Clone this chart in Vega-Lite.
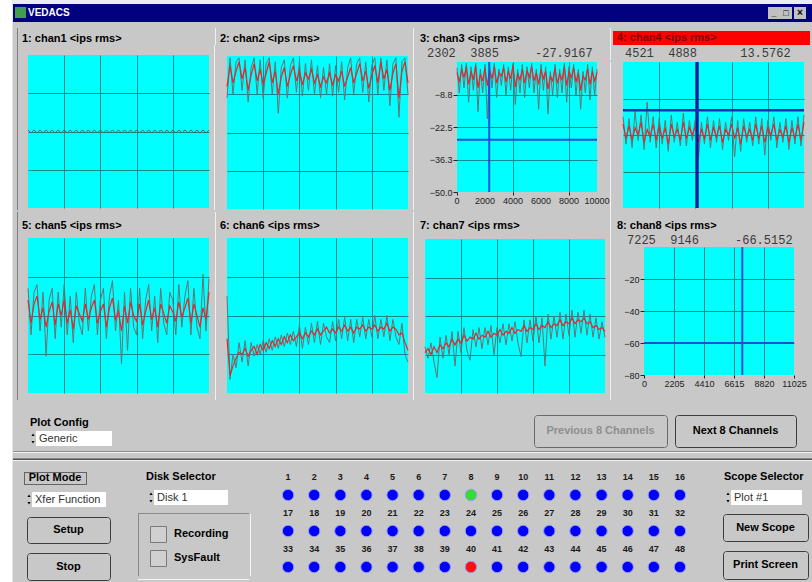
{
"$schema":"https://vega.github.io/schema/vega-lite/v6.json",
"background":"#c8c8c8",
"padding":0,
"spacing":0,
"data":{"values":[]},
"config":{"view":{"stroke":null},"text":{"font":"Liberation Sans"},"axis":{"labelFont":"Liberation Sans","minExtent":0,"labelOverlap":false,"labelFlush":false}},
"datasets":{
"ch1":[{"k":0,"g":0.04},{"k":1,"g":-0.04},{"k":2,"g":0.04},{"k":3,"g":-0.04},{"k":4,"g":0.04},{"k":5,"g":-0.04},{"k":6,"g":0.04},{"k":7,"g":-0.04},{"k":8,"g":0.04},{"k":9,"g":-0.04},{"k":10,"g":0.04},{"k":11,"g":-0.04},{"k":12,"g":0.04},{"k":13,"g":-0.04},{"k":14,"g":0.04},{"k":15,"g":-0.04},{"k":16,"g":0.04},{"k":17,"g":-0.04},{"k":18,"g":0.04},{"k":19,"g":-0.04},{"k":20,"g":0.04},{"k":21,"g":-0.04},{"k":22,"g":0.04},{"k":23,"g":-0.04},{"k":24,"g":0.04},{"k":25,"g":-0.04},{"k":26,"g":0.04},{"k":27,"g":-0.04},{"k":28,"g":0.04},{"k":29,"g":-0.04},{"k":30,"g":0.04},{"k":31,"g":-0.04},{"k":32,"g":0.04},{"k":33,"g":-0.04},{"k":34,"g":0.04},{"k":35,"g":-0.04},{"k":36,"g":0.04},{"k":37,"g":-0.04},{"k":38,"g":0.04},{"k":39,"g":-0.04},{"k":40,"g":0.04},{"k":41,"g":-0.04},{"k":42,"g":0.04},{"k":43,"g":-0.04},{"k":44,"g":0.04},{"k":45,"g":-0.04},{"k":46,"g":0.04},{"k":47,"g":-0.04},{"k":48,"g":0.04},{"k":49,"g":-0.04},{"k":50,"g":0.04},{"k":51,"g":-0.04},{"k":52,"g":0.04},{"k":53,"g":-0.04},{"k":54,"g":0.04},{"k":55,"g":-0.04},{"k":56,"g":0.04},{"k":57,"g":-0.04},{"k":58,"g":0.04},{"k":59,"g":-0.04},{"k":60,"g":0.04}],
"ch2":[{"k":0,"r":1.2,"g":0.9},{"k":1,"r":1.75,"g":1.95},{"k":2,"r":1.3,"g":1.0},{"k":3,"r":1.6,"g":1.85},{"k":4,"r":1.85,"g":1.95},{"k":5,"r":1.4,"g":1.1},{"k":6,"r":1.7,"g":1.9},{"k":7,"r":1.1,"g":0.8},{"k":8,"r":1.5,"g":1.7},{"k":9,"r":1.8,"g":1.95},{"k":10,"r":1.35,"g":1.0},{"k":11,"r":1.65,"g":1.9},{"k":12,"r":1.25,"g":0.9},{"k":13,"r":1.55,"g":1.8},{"k":14,"r":1.85,"g":1.95},{"k":15,"r":1.3,"g":1.0},{"k":16,"r":1.6,"g":1.85},{"k":17,"r":1.0,"g":0.5},{"k":18,"r":1.45,"g":1.7},{"k":19,"r":1.7,"g":1.9},{"k":20,"r":1.2,"g":0.9},{"k":21,"r":1.5,"g":1.75},{"k":22,"r":1.75,"g":1.95},{"k":23,"r":1.35,"g":1.05},{"k":24,"r":1.6,"g":1.85},{"k":25,"r":1.25,"g":0.95},{"k":26,"r":1.55,"g":1.8},{"k":27,"r":1.4,"g":1.1},{"k":28,"r":1.65,"g":1.9},{"k":29,"r":1.3,"g":1.0},{"k":30,"r":1.5,"g":1.75},{"k":31,"r":1.2,"g":0.9},{"k":32,"r":1.45,"g":1.7},{"k":33,"r":1.3,"g":1.0},{"k":34,"r":1.55,"g":1.8},{"k":35,"r":1.25,"g":0.95},{"k":36,"r":1.5,"g":1.75},{"k":37,"r":1.35,"g":1.05},{"k":38,"r":1.6,"g":1.85},{"k":39,"r":1.2,"g":0.85},{"k":40,"r":1.45,"g":1.7},{"k":41,"r":1.7,"g":1.95},{"k":42,"r":1.3,"g":1.0},{"k":43,"r":1.55,"g":1.8},{"k":44,"r":1.8,"g":1.95},{"k":45,"r":1.35,"g":1.05},{"k":46,"r":1.6,"g":1.85},{"k":47,"r":1.15,"g":0.8},{"k":48,"r":1.5,"g":1.75},{"k":49,"r":1.75,"g":1.95},{"k":50,"r":1.3,"g":1.0},{"k":51,"r":1.85,"g":1.95},{"k":52,"r":1.4,"g":1.1},{"k":53,"r":1.65,"g":1.9},{"k":54,"r":1.1,"g":0.7},{"k":55,"r":1.55,"g":1.8},{"k":56,"r":1.8,"g":1.95},{"k":57,"r":0.9,"g":0.4},{"k":58,"r":1.6,"g":1.85},{"k":59,"r":1.85,"g":1.95},{"k":60,"r":1.3,"g":1.0}],
"ch3":[{"s":0,"r":0.5,"g":2.5},{"s":167,"r":-3.5,"g":-8},{"s":333,"r":2.0,"g":4},{"s":500,"r":-1.5,"g":-6},{"s":667,"r":3.0,"g":4.5},{"s":833,"r":-4.5,"g":-12},{"s":1000,"r":1.0,"g":3},{"s":1167,"r":-2.5,"g":-7},{"s":1333,"r":3.5,"g":4.5},{"s":1500,"r":-6.0,"g":-16},{"s":1667,"r":0.0,"g":2},{"s":1833,"r":-3.0,"g":-8},{"s":2000,"r":2.5,"g":4},{"s":2167,"r":-5.0,"g":-19},{"s":2333,"r":1.5,"g":3},{"s":2500,"r":-2.0,"g":-6},{"s":2667,"r":3.0,"g":4.5},{"s":2833,"r":-4.0,"g":-10},{"s":3000,"r":0.5,"g":2},{"s":3167,"r":-1.0,"g":-5},{"s":3333,"r":2.5,"g":4},{"s":3500,"r":-3.5,"g":-9},{"s":3667,"r":1.0,"g":3},{"s":3833,"r":-2.0,"g":-7},{"s":4000,"r":3.5,"g":4.5},{"s":4167,"r":-5.5,"g":-13},{"s":4333,"r":0.0,"g":2},{"s":4500,"r":-2.5,"g":-8},{"s":4667,"r":2.0,"g":4},{"s":4833,"r":-4.0,"g":-10},{"s":5000,"r":1.5,"g":3},{"s":5167,"r":-1.5,"g":-6},{"s":5333,"r":3.0,"g":4.5},{"s":5500,"r":-3.0,"g":-8},{"s":5667,"r":0.5,"g":2},{"s":5833,"r":-4.5,"g":-15},{"s":6000,"r":2.0,"g":4},{"s":6167,"r":-2.0,"g":-7},{"s":6333,"r":1.0,"g":3},{"s":6500,"r":-6.5,"g":-17},{"s":6667,"r":-1.0,"g":1},{"s":6833,"r":-3.0,"g":-9},{"s":7000,"r":2.5,"g":4},{"s":7167,"r":-4.0,"g":-10},{"s":7333,"r":0.0,"g":2},{"s":7500,"r":-2.5,"g":-8},{"s":7667,"r":3.0,"g":4.5},{"s":7833,"r":-5.0,"g":-12},{"s":8000,"r":1.0,"g":3},{"s":8167,"r":-1.5,"g":-6},{"s":8333,"r":2.5,"g":4},{"s":8500,"r":-3.5,"g":-9},{"s":8667,"r":0.5,"g":2},{"s":8833,"r":-7.0,"g":-15},{"s":9000,"r":-1.0,"g":1},{"s":9167,"r":-2.5,"g":-8},{"s":9333,"r":2.0,"g":4},{"s":9500,"r":-4.5,"g":-11},{"s":9667,"r":1.0,"g":3},{"s":9833,"r":-3.0,"g":-9},{"s":10000,"r":0.5,"g":2}],
"ch4":[{"k":0,"r":6,"g":10},{"k":1,"r":-2,"g":-5},{"k":2,"r":5,"g":9},{"k":3,"r":-3,"g":-7},{"k":4,"r":4,"g":13},{"k":5,"r":0,"g":-3},{"k":6,"r":7,"g":11},{"k":7,"r":-4,"g":-8},{"k":8,"r":3,"g":18},{"k":9,"r":-1,"g":-4},{"k":10,"r":6,"g":10},{"k":11,"r":-3,"g":-7},{"k":12,"r":5,"g":9},{"k":13,"r":-2,"g":-5},{"k":14,"r":4,"g":8},{"k":15,"r":-5,"g":-9},{"k":16,"r":6,"g":11},{"k":17,"r":-1,"g":-4},{"k":18,"r":3,"g":7},{"k":19,"r":-3,"g":-6},{"k":20,"r":7,"g":12},{"k":21,"r":-2,"g":-6},{"k":22,"r":4,"g":8},{"k":23,"r":0,"g":-3},{"k":24,"r":5,"g":9},{"k":25,"r":-4,"g":-13},{"k":26,"r":3,"g":7},{"k":27,"r":-2,"g":-5},{"k":28,"r":6,"g":10},{"k":29,"r":-3,"g":-7},{"k":30,"r":4,"g":8},{"k":31,"r":-1,"g":-4},{"k":32,"r":5,"g":9},{"k":33,"r":-4,"g":-8},{"k":34,"r":3,"g":7},{"k":35,"r":0,"g":-3},{"k":36,"r":6,"g":10},{"k":37,"r":-2,"g":-12},{"k":38,"r":4,"g":8},{"k":39,"r":-5,"g":-9},{"k":40,"r":5,"g":9},{"k":41,"r":-1,"g":-4},{"k":42,"r":3,"g":7},{"k":43,"r":-3,"g":-6},{"k":44,"r":6,"g":10},{"k":45,"r":-2,"g":-5},{"k":46,"r":5,"g":9},{"k":47,"r":-4,"g":-11},{"k":48,"r":4,"g":8},{"k":49,"r":0,"g":-3},{"k":50,"r":6,"g":10},{"k":51,"r":-3,"g":-7},{"k":52,"r":3,"g":7},{"k":53,"r":-1,"g":-4},{"k":54,"r":5,"g":9},{"k":55,"r":-4,"g":-8},{"k":56,"r":4,"g":8},{"k":57,"r":-2,"g":-5},{"k":58,"r":6,"g":10},{"k":59,"r":-3,"g":-6},{"k":60,"r":7,"g":11}],
"ch5":[{"k":0,"r":0.4,"g":0.7},{"k":1,"r":-0.2,"g":-0.5},{"k":2,"r":0.3,"g":0.6},{"k":3,"r":0.5,"g":0.8},{"k":4,"r":-0.1,"g":-0.4},{"k":5,"r":0.2,"g":0.6},{"k":6,"r":-0.3,"g":-1.05},{"k":7,"r":0.1,"g":0.4},{"k":8,"r":0.35,"g":0.7},{"k":9,"r":-0.25,"g":-0.6},{"k":10,"r":0.3,"g":0.6},{"k":11,"r":0.0,"g":-0.3},{"k":12,"r":0.4,"g":0.8},{"k":13,"r":-0.2,"g":-0.5},{"k":14,"r":0.15,"g":0.5},{"k":15,"r":-0.35,"g":-0.7},{"k":16,"r":0.25,"g":0.6},{"k":17,"r":0.05,"g":-0.2},{"k":18,"r":-0.15,"g":-0.5},{"k":19,"r":0.3,"g":0.7},{"k":20,"r":-0.1,"g":-0.4},{"k":21,"r":0.2,"g":0.5},{"k":22,"r":0.4,"g":0.8},{"k":23,"r":-0.2,"g":-0.5},{"k":24,"r":0.1,"g":0.4},{"k":25,"r":0.3,"g":0.7},{"k":26,"r":-0.3,"g":-0.6},{"k":27,"r":0.2,"g":0.5},{"k":28,"r":0.45,"g":0.9},{"k":29,"r":-0.1,"g":-0.4},{"k":30,"r":0.1,"g":0.4},{"k":31,"r":-0.4,"g":-1.25},{"k":32,"r":0.25,"g":0.6},{"k":33,"r":-0.2,"g":-0.9},{"k":34,"r":0.35,"g":0.7},{"k":35,"r":0.0,"g":-0.3},{"k":36,"r":-0.15,"g":-0.5},{"k":37,"r":0.3,"g":0.7},{"k":38,"r":-0.25,"g":-0.6},{"k":39,"r":0.1,"g":0.4},{"k":40,"r":0.4,"g":0.8},{"k":41,"r":-0.1,"g":-0.4},{"k":42,"r":0.2,"g":0.5},{"k":43,"r":-0.3,"g":-0.7},{"k":44,"r":0.3,"g":0.7},{"k":45,"r":0.05,"g":-0.2},{"k":46,"r":-0.2,"g":-0.5},{"k":47,"r":0.25,"g":0.6},{"k":48,"r":0.1,"g":0.4},{"k":49,"r":-0.15,"g":-0.5},{"k":50,"r":0.35,"g":0.8},{"k":51,"r":-0.05,"g":-0.3},{"k":52,"r":0.2,"g":0.5},{"k":53,"r":0.45,"g":0.9},{"k":54,"r":-0.2,"g":-0.5},{"k":55,"r":0.3,"g":0.7},{"k":56,"r":0.0,"g":-0.3},{"k":57,"r":-0.3,"g":-0.6},{"k":58,"r":0.2,"g":1.06},{"k":59,"r":-0.1,"g":-0.4},{"k":60,"r":0.6,"g":0.95}],
"ch6":[{"k":0,"r":-0.6,"g":0.5},{"k":1,"r":-1.55,"g":-1.65},{"k":2,"r":-1.3,"g":-1.0},{"k":3,"r":-1.1,"g":-1.35},{"k":4,"r":-0.95,"g":-0.7},{"k":5,"r":-1.0,"g":-1.2},{"k":6,"r":-0.85,"g":-0.65},{"k":7,"r":-1.05,"g":-1.3},{"k":8,"r":-0.9,"g":-0.7},{"k":9,"r":-0.8,"g":-1.05},{"k":10,"r":-1.0,"g":-0.75},{"k":11,"r":-0.75,"g":-1.0},{"k":12,"r":-0.9,"g":-0.65},{"k":13,"r":-0.7,"g":-0.95},{"k":14,"r":-0.85,"g":-0.6},{"k":15,"r":-0.65,"g":-0.9},{"k":16,"r":-0.8,"g":-0.55},{"k":17,"r":-0.6,"g":-0.85},{"k":18,"r":-0.75,"g":-0.5},{"k":19,"r":-0.55,"g":-0.8},{"k":20,"r":-0.7,"g":-0.45},{"k":21,"r":-0.5,"g":-0.75},{"k":22,"r":-0.65,"g":-0.4},{"k":23,"r":-0.55,"g":-0.8},{"k":24,"r":-0.45,"g":-0.25},{"k":25,"r":-0.6,"g":-0.85},{"k":26,"r":-0.45,"g":-0.3},{"k":27,"r":-0.55,"g":-0.75},{"k":28,"r":-0.4,"g":-0.2},{"k":29,"r":-0.5,"g":-0.7},{"k":30,"r":-0.35,"g":-0.15},{"k":31,"r":-0.5,"g":-0.75},{"k":32,"r":-0.4,"g":-0.2},{"k":33,"r":-0.3,"g":-0.55},{"k":34,"r":-0.45,"g":-0.7},{"k":35,"r":-0.35,"g":-0.15},{"k":36,"r":-0.45,"g":-0.65},{"k":37,"r":-0.3,"g":-0.1},{"k":38,"r":-0.4,"g":-0.6},{"k":39,"r":-0.25,"g":-0.05},{"k":40,"r":-0.4,"g":-0.65},{"k":41,"r":-0.3,"g":-0.1},{"k":42,"r":-0.45,"g":-0.7},{"k":43,"r":-0.3,"g":-0.1},{"k":44,"r":-0.35,"g":-0.55},{"k":45,"r":-0.25,"g":-0.05},{"k":46,"r":-0.4,"g":-0.6},{"k":47,"r":-0.3,"g":-0.1},{"k":48,"r":-0.35,"g":-0.55},{"k":49,"r":-0.25,"g":0.0},{"k":50,"r":-0.4,"g":-0.6},{"k":51,"r":-0.3,"g":-0.1},{"k":52,"r":-0.35,"g":-0.55},{"k":53,"r":-0.2,"g":0.0},{"k":54,"r":-0.4,"g":-0.65},{"k":55,"r":-0.3,"g":-0.1},{"k":56,"r":-0.35,"g":-0.55},{"k":57,"r":-0.5,"g":-0.75},{"k":58,"r":-0.45,"g":-0.2},{"k":59,"r":-0.7,"g":-1.0},{"k":60,"r":-0.9,"g":-1.2}],
"ch7":[{"k":0,"r":-0.95,"g":-0.8},{"k":1,"r":-0.85,"g":-1.1},{"k":2,"r":-1.0,"g":-0.7},{"k":3,"r":-0.8,"g":-1.2},{"k":4,"r":-0.95,"g":-1.6},{"k":5,"r":-0.75,"g":-0.55},{"k":6,"r":-0.85,"g":-1.1},{"k":7,"r":-0.7,"g":-0.5},{"k":8,"r":-0.8,"g":-1.0},{"k":9,"r":-0.6,"g":-0.4},{"k":10,"r":-0.75,"g":-1.3},{"k":11,"r":-0.6,"g":-0.4},{"k":12,"r":-0.7,"g":-0.95},{"k":13,"r":-0.5,"g":-0.3},{"k":14,"r":-0.65,"g":-0.9},{"k":15,"r":-0.55,"g":-1.15},{"k":16,"r":-0.6,"g":-0.35},{"k":17,"r":-0.45,"g":-0.8},{"k":18,"r":-0.6,"g":-0.3},{"k":19,"r":-0.5,"g":-0.85},{"k":20,"r":-0.55,"g":-0.3},{"k":21,"r":-0.4,"g":-0.75},{"k":22,"r":-0.55,"g":-0.25},{"k":23,"r":-0.45,"g":-1.0},{"k":24,"r":-0.5,"g":-0.3},{"k":25,"r":-0.35,"g":-0.7},{"k":26,"r":-0.5,"g":-0.2},{"k":27,"r":-0.4,"g":-0.75},{"k":28,"r":-0.45,"g":-0.2},{"k":29,"r":-0.3,"g":-0.65},{"k":30,"r":-0.45,"g":-0.15},{"k":31,"r":-0.35,"g":-0.7},{"k":32,"r":-0.4,"g":-1.05},{"k":33,"r":-0.25,"g":-0.1},{"k":34,"r":-0.4,"g":-0.7},{"k":35,"r":-0.3,"g":-0.1},{"k":36,"r":-0.35,"g":-0.65},{"k":37,"r":-0.2,"g":0.0},{"k":38,"r":-0.35,"g":-0.7},{"k":39,"r":-0.25,"g":-0.05},{"k":40,"r":-0.3,"g":-1.3},{"k":41,"r":-0.15,"g":0.05},{"k":42,"r":-0.3,"g":-0.6},{"k":43,"r":-0.2,"g":0.0},{"k":44,"r":-0.25,"g":-0.55},{"k":45,"r":-0.1,"g":0.1},{"k":46,"r":-0.25,"g":-0.6},{"k":47,"r":-0.15,"g":0.05},{"k":48,"r":-0.2,"g":-0.5},{"k":49,"r":-0.05,"g":0.15},{"k":50,"r":-0.2,"g":-0.55},{"k":51,"r":-0.1,"g":0.1},{"k":52,"r":-0.15,"g":-0.45},{"k":53,"r":-0.05,"g":0.15},{"k":54,"r":-0.2,"g":-0.5},{"k":55,"r":-0.15,"g":0.05},{"k":56,"r":-0.3,"g":-0.55},{"k":57,"r":-0.25,"g":-0.05},{"k":58,"r":-0.35,"g":-0.6},{"k":59,"r":-0.3,"g":-0.15},{"k":60,"r":-0.4,"g":-0.55}],
"leds":[{"ch":1,"col":1,"lr":"l1","nr":"n1","state":"idle"},{"ch":2,"col":2,"lr":"l1","nr":"n1","state":"idle"},{"ch":3,"col":3,"lr":"l1","nr":"n1","state":"idle"},{"ch":4,"col":4,"lr":"l1","nr":"n1","state":"idle"},{"ch":5,"col":5,"lr":"l1","nr":"n1","state":"idle"},{"ch":6,"col":6,"lr":"l1","nr":"n1","state":"idle"},{"ch":7,"col":7,"lr":"l1","nr":"n1","state":"idle"},{"ch":8,"col":8,"lr":"l1","nr":"n1","state":"selected"},{"ch":9,"col":9,"lr":"l1","nr":"n1","state":"idle"},{"ch":10,"col":10,"lr":"l1","nr":"n1","state":"idle"},{"ch":11,"col":11,"lr":"l1","nr":"n1","state":"idle"},{"ch":12,"col":12,"lr":"l1","nr":"n1","state":"idle"},{"ch":13,"col":13,"lr":"l1","nr":"n1","state":"idle"},{"ch":14,"col":14,"lr":"l1","nr":"n1","state":"idle"},{"ch":15,"col":15,"lr":"l1","nr":"n1","state":"idle"},{"ch":16,"col":16,"lr":"l1","nr":"n1","state":"idle"},{"ch":17,"col":1,"lr":"l2","nr":"n2","state":"idle"},{"ch":18,"col":2,"lr":"l2","nr":"n2","state":"idle"},{"ch":19,"col":3,"lr":"l2","nr":"n2","state":"idle"},{"ch":20,"col":4,"lr":"l2","nr":"n2","state":"idle"},{"ch":21,"col":5,"lr":"l2","nr":"n2","state":"idle"},{"ch":22,"col":6,"lr":"l2","nr":"n2","state":"idle"},{"ch":23,"col":7,"lr":"l2","nr":"n2","state":"idle"},{"ch":24,"col":8,"lr":"l2","nr":"n2","state":"idle"},{"ch":25,"col":9,"lr":"l2","nr":"n2","state":"idle"},{"ch":26,"col":10,"lr":"l2","nr":"n2","state":"idle"},{"ch":27,"col":11,"lr":"l2","nr":"n2","state":"idle"},{"ch":28,"col":12,"lr":"l2","nr":"n2","state":"idle"},{"ch":29,"col":13,"lr":"l2","nr":"n2","state":"idle"},{"ch":30,"col":14,"lr":"l2","nr":"n2","state":"idle"},{"ch":31,"col":15,"lr":"l2","nr":"n2","state":"idle"},{"ch":32,"col":16,"lr":"l2","nr":"n2","state":"idle"},{"ch":33,"col":1,"lr":"l3","nr":"n3","state":"idle"},{"ch":34,"col":2,"lr":"l3","nr":"n3","state":"idle"},{"ch":35,"col":3,"lr":"l3","nr":"n3","state":"idle"},{"ch":36,"col":4,"lr":"l3","nr":"n3","state":"idle"},{"ch":37,"col":5,"lr":"l3","nr":"n3","state":"idle"},{"ch":38,"col":6,"lr":"l3","nr":"n3","state":"idle"},{"ch":39,"col":7,"lr":"l3","nr":"n3","state":"idle"},{"ch":40,"col":8,"lr":"l3","nr":"n3","state":"fault"},{"ch":41,"col":9,"lr":"l3","nr":"n3","state":"idle"},{"ch":42,"col":10,"lr":"l3","nr":"n3","state":"idle"},{"ch":43,"col":11,"lr":"l3","nr":"n3","state":"idle"},{"ch":44,"col":12,"lr":"l3","nr":"n3","state":"idle"},{"ch":45,"col":13,"lr":"l3","nr":"n3","state":"idle"},{"ch":46,"col":14,"lr":"l3","nr":"n3","state":"idle"},{"ch":47,"col":15,"lr":"l3","nr":"n3","state":"idle"},{"ch":48,"col":16,"lr":"l3","nr":"n3","state":"idle"}]
},
"hconcat":[
{"width":12,"height":582,"mark":{"type":"point","opacity":0},"view":{"fill":"#ffffff"}},
{"width":1,"height":582,"mark":{"type":"point","opacity":0},"view":{"fill":"#e4e4e4"}},
{"spacing":0,"vconcat":[
 {"width":799,"height":4,"mark":{"type":"point","opacity":0},"view":{"fill":"#ececf4"}},
 {"spacing":0,"hconcat":[
  {"width":2,"height":18,"mark":{"type":"point","opacity":0},"view":{"fill":"#000080"}},
  {"spacing":0,"vconcat":[
   {"width":11,"height":3,"mark":{"type":"point","opacity":0},"view":{"fill":"#000080"}},
   {"width":11,"height":11,"mark":{"type":"point","opacity":0},"view":{"fill":"#3f9f4f"}},
   {"width":11,"height":4,"mark":{"type":"point","opacity":0},"view":{"fill":"#000080"}}]},
  {"width":742,"height":18,"data":{"values":[{"label":"VEDACS"}]},"mark":{"type":"text","align":"left","x":2,"color":"#ffffff","fontSize":10,"fontWeight":"bold"},"encoding":{"text":{"field":"label"}},"view":{"fill":"#000080"}},
  {"spacing":0,"vconcat":[
   {"width":38,"height":3,"mark":{"type":"point","opacity":0},"view":{"fill":"#000080"}},
   {"spacing":0,"hconcat":[
    {"width":12,"height":12,"data":{"values":[{"label":"_"}]},"mark":{"type":"text","fontSize":9,"fontWeight":"bold","color":"#000000"},"encoding":{"text":{"field":"label"}},"view":{"fill":"#c0c0c0"}},
    {"width":12,"height":12,"data":{"values":[{"label":"□"}]},"mark":{"type":"text","fontSize":9,"fontWeight":"bold","color":"#000000"},"encoding":{"text":{"field":"label"}},"view":{"fill":"#c0c0c0"}},
    {"width":2,"height":12,"mark":{"type":"point","opacity":0},"view":{"fill":"#000080"}},
    {"width":12,"height":12,"data":{"values":[{"label":"×"}]},"mark":{"type":"text","fontSize":10,"fontWeight":"bold","color":"#000000"},"encoding":{"text":{"field":"label"}},"view":{"fill":"#c0c0c0"}}]},
   {"width":38,"height":3,"mark":{"type":"point","opacity":0},"view":{"fill":"#000080"}}]},
  {"width":6,"height":18,"mark":{"type":"point","opacity":0},"view":{"fill":"#000080"}}]},
 {"width":799,"height":6,"mark":{"type":"point","opacity":0}},
 {"spacing":0,"vconcat":[
  {"spacing":0,"hconcat":[
   {"width":4,"height":17,"mark":{"type":"point","opacity":0}},
   {"width":1,"height":17,"mark":{"type":"point","opacity":0},"view":{"fill":"#808080"}},
   {"width":4,"height":1,"mark":{"type":"point","opacity":0}},
   {"width":193,"height":17,"data":{"values":[{"label":"1: chan1 <ips rms>"}]},"mark":{"type":"text","align":"left","x":0,"dy":2.5,"fontSize":11,"fontWeight":"bold","color":"#000000"},"encoding":{"text":{"field":"label"}}},
   {"width":1,"height":17,"mark":{"type":"point","opacity":0},"view":{"fill":"#f0f0f0"}},
   {"width":4,"height":1,"mark":{"type":"point","opacity":0}},
   {"width":193,"height":17,"data":{"values":[{"label":"2: chan2 <ips rms>"}]},"mark":{"type":"text","align":"left","x":0,"dy":2.5,"fontSize":11,"fontWeight":"bold","color":"#000000"},"encoding":{"text":{"field":"label"}}},
   {"width":1,"height":17,"mark":{"type":"point","opacity":0},"view":{"fill":"#f0f0f0"}},
   {"width":6,"height":1,"mark":{"type":"point","opacity":0}},
   {"width":190,"height":17,"data":{"values":[{"label":"3: chan3 <ips rms>"}]},"mark":{"type":"text","align":"left","x":0,"dy":2.5,"fontSize":11,"fontWeight":"bold","color":"#000000"},"encoding":{"text":{"field":"label"}}},
   {"width":1,"height":17,"mark":{"type":"point","opacity":0},"view":{"fill":"#f0f0f0"}},
   {"width":2,"height":1,"mark":{"type":"point","opacity":0}},
   {"spacing":0,"vconcat":[
    {"width":197,"height":3,"mark":{"type":"point","opacity":0}},
    {"spacing":0,"hconcat":[
     {"width":2,"height":14,"mark":{"type":"point","opacity":0},"view":{"fill":"#ff0000"}},
     {"width":195,"height":14,"data":{"values":[{"label":"4: chan4 <ips rms>"}]},"mark":{"type":"text","align":"left","x":2,"fontSize":11,"fontWeight":"bold","color":"#7a0000"},"encoding":{"text":{"field":"label"}},"view":{"fill":"#ff0000"}}]}]}]},
  {"spacing":0,"hconcat":[
   {"width":4,"height":165,"mark":{"type":"point","opacity":0}},
   {"width":1,"height":165,"mark":{"type":"point","opacity":0},"view":{"fill":"#808080"}},
   {"width":8,"height":1,"mark":{"type":"point","opacity":0}},
   {"spacing":0,"vconcat":[
    {"width":181,"height":10,"mark":{"type":"point","opacity":0}},
    {"width":181,"height":153,"view":{"fill":"#00ffff"},"data":{"name":"ch1"},"mark":{"type":"line","color":"#3d6a6a","strokeWidth":1},
     "encoding":{"x":{"field":"k","type":"quantitative","scale":{"domain":[0,60],"nice":false,"zero":false},"axis":{"values":[12,24,36,48],"grid":true,"gridColor":"#0b8c8c","gridOpacity":1,"labels":false,"ticks":false,"domain":false,"title":null}},
      "y":{"field":"g","type":"quantitative","scale":{"domain":[-2,2],"nice":false},"axis":{"values":[-1,0,1],"grid":true,"gridColor":"#0b8c8c","gridOpacity":1,"labels":false,"ticks":false,"domain":false,"title":null}}}}]},
   {"width":3,"height":1,"mark":{"type":"point","opacity":0}},
   {"width":1,"height":165,"mark":{"type":"point","opacity":0},"view":{"fill":"#f0f0f0"}},
   {"width":9,"height":1,"mark":{"type":"point","opacity":0}},
   {"spacing":0,"vconcat":[
    {"width":181,"height":10,"mark":{"type":"point","opacity":0}},
    {"width":181,"height":153,"view":{"fill":"#00ffff"},"data":{"name":"ch2"},
     "encoding":{"x":{"field":"k","type":"quantitative","scale":{"domain":[0,60],"nice":false,"zero":false},"axis":{"values":[12,24,36,48],"grid":true,"gridColor":"#0b8c8c","gridOpacity":1,"labels":false,"ticks":false,"domain":false,"title":null}}},
     "layer":[
      {"mark":{"type":"line","color":"#6b7272","strokeWidth":1},"encoding":{"y":{"field":"g","type":"quantitative","scale":{"domain":[-2,2],"nice":false},"axis":{"values":[-1,0,1],"grid":true,"gridColor":"#0b8c8c","gridOpacity":1,"labels":false,"ticks":false,"domain":false,"title":null}}}},
      {"mark":{"type":"line","color":"#e8262a","strokeWidth":1.2},"encoding":{"y":{"field":"r","type":"quantitative","axis":{"values":[-1,0,1],"grid":true,"gridColor":"#0b8c8c","gridOpacity":1,"labels":false,"ticks":false,"domain":false,"title":null}}}}]}]},
   {"width":2,"height":1,"mark":{"type":"point","opacity":0}},
   {"width":1,"height":165,"mark":{"type":"point","opacity":0},"view":{"fill":"#f0f0f0"}},
   {"spacing":0,"vconcat":[
    {"spacing":0,"hconcat":[
     {"width":13,"height":15,"mark":{"type":"point","opacity":0}},
     {"width":183,"height":15,"data":{"values":[{"label":"2302\u00a0\u00a03885\u00a0\u00a0\u00a0\u00a0\u00a0-27.9167"}]},"mark":{"type":"text","align":"left","x":0,"font":"Liberation Mono","fontSize":12,"color":"#3a3a3a"},"encoding":{"text":{"field":"label"}}},
     {"width":1,"height":15,"mark":{"type":"point","opacity":0},"view":{"fill":"#f0f0f0"}},
     {"width":14,"height":1,"mark":{"type":"point","opacity":0}},
     {"width":187,"height":15,"data":{"values":[{"label":"4521\u00a0\u00a04888\u00a0\u00a0\u00a0\u00a0\u00a0\u00a013.5762"}]},"mark":{"type":"text","align":"left","x":0,"font":"Liberation Mono","fontSize":12,"color":"#3a3a3a"},"encoding":{"text":{"field":"label"}}}]},
    {"spacing":0,"hconcat":[
     {"width":15,"height":1,"mark":{"type":"point","opacity":0}},
     {"width":140,"height":130,"view":{"fill":"#00ffff"},
      "layer":[
       {"data":{"name":"ch3"},"mark":{"type":"line","color":"#6b7272","strokeWidth":1},"encoding":{
         "x":{"field":"s","type":"quantitative","scale":{"domain":[0,10000],"nice":false,"zero":false},"axis":{"values":[0,2000,4000,6000,8000,10000],"grid":true,"gridColor":{"condition":{"test":"datum.value==0||datum.value==10000","value":"transparent"},"value":"#0b8c8c"},"gridOpacity":1,"labels":false,"ticks":true,"tickSize":3,"tickColor":"#222222","domain":false,"title":null}},
         "y":{"field":"g","type":"quantitative","scale":{"domain":[-50,5],"nice":false,"zero":false},"axis":{"values":[-50,-36.25,-22.5,-8.75],"format":".1f","grid":true,"gridColor":{"condition":{"test":"datum.value==-50","value":"transparent"},"value":"#0b8c8c"},"gridOpacity":1,"labels":true,"labelFontSize":9,"labelColor":"#222222","labelOverlap":false,"labelPadding":1,"ticks":true,"tickSize":4,"tickColor":"#222222","domain":false,"title":null}}}},
       {"data":{"name":"ch3"},"mark":{"type":"line","color":"#e8262a","strokeWidth":1.2},"encoding":{"x":{"field":"s","type":"quantitative"},"y":{"field":"r","type":"quantitative"}}},
       {"data":{"values":[{"s":2302}]},"mark":{"type":"rule","color":"#1f4fd8","strokeWidth":2},"encoding":{"x":{"field":"s","type":"quantitative"}}},
       {"data":{"values":[{"v":-27.9167}]},"mark":{"type":"rule","color":"#1f4fd8","strokeWidth":2},"encoding":{"y":{"field":"v","type":"quantitative"}}},
       {"data":{"values":[{"s":0},{"s":2000},{"s":4000},{"s":6000},{"s":8000},{"s":10000}]},"mark":{"type":"text","y":"height","baseline":"top","dy":5,"fontSize":9,"color":"#222222"},"encoding":{"x":{"field":"s","type":"quantitative"},"text":{"field":"s","type":"quantitative","format":"d"}}}]},
     {"width":1,"height":150,"mark":{"type":"point","opacity":0},"view":{"fill":"#f0f0f0"}},
     {"width":9,"height":1,"mark":{"type":"point","opacity":0}},
     {"width":181,"height":146,"view":{"fill":"#00ffff"},
      "layer":[
       {"data":{"name":"ch4"},"mark":{"type":"line","color":"#6b7272","strokeWidth":1},"encoding":{
         "x":{"field":"k","type":"quantitative","scale":{"domain":[0,60],"nice":false,"zero":false},"axis":{"values":[12,24,36,48],"grid":true,"gridColor":"#0b8c8c","gridOpacity":1,"labels":false,"ticks":false,"domain":false,"title":null}},
         "y":{"field":"g","type":"quantitative","scale":{"domain":[-40,40],"nice":false},"axis":{"values":[-20,0,20],"grid":true,"gridColor":"#0b8c8c","gridOpacity":1,"labels":false,"ticks":false,"domain":false,"title":null}}}},
       {"data":{"name":"ch4"},"mark":{"type":"line","color":"#e8262a","strokeWidth":1.2},"encoding":{"x":{"field":"k","type":"quantitative"},"y":{"field":"r","type":"quantitative"}}},
       {"data":{"values":[{"k":24.6}]},"mark":{"type":"rule","color":"#0a1aa0","strokeWidth":3},"encoding":{"x":{"field":"k","type":"quantitative"}}},
       {"data":{"values":[{"v":13.5762}]},"mark":{"type":"rule","color":"#1530a8","strokeWidth":2.5},"encoding":{"y":{"field":"v","type":"quantitative"}}}]}]}]}]}]},
 {"spacing":0,"vconcat":[
  {"spacing":0,"hconcat":[
   {"width":4,"height":21,"mark":{"type":"point","opacity":0}},
   {"width":1,"height":21,"mark":{"type":"point","opacity":0},"view":{"fill":"#808080"}},
   {"width":4,"height":1,"mark":{"type":"point","opacity":0}},
   {"width":193,"height":21,"data":{"values":[{"label":"5: chan5 <ips rms>"}]},"mark":{"type":"text","align":"left","x":0,"dy":3.5,"fontSize":11,"fontWeight":"bold","color":"#000000"},"encoding":{"text":{"field":"label"}}},
   {"width":1,"height":21,"mark":{"type":"point","opacity":0},"view":{"fill":"#f0f0f0"}},
   {"width":4,"height":1,"mark":{"type":"point","opacity":0}},
   {"width":193,"height":21,"data":{"values":[{"label":"6: chan6 <ips rms>"}]},"mark":{"type":"text","align":"left","x":0,"dy":3.5,"fontSize":11,"fontWeight":"bold","color":"#000000"},"encoding":{"text":{"field":"label"}}},
   {"width":1,"height":21,"mark":{"type":"point","opacity":0},"view":{"fill":"#f0f0f0"}},
   {"width":6,"height":1,"mark":{"type":"point","opacity":0}},
   {"width":190,"height":21,"data":{"values":[{"label":"7: chan7 <ips rms>"}]},"mark":{"type":"text","align":"left","x":0,"dy":3.5,"fontSize":11,"fontWeight":"bold","color":"#000000"},"encoding":{"text":{"field":"label"}}},
   {"width":1,"height":21,"mark":{"type":"point","opacity":0},"view":{"fill":"#f0f0f0"}},
   {"width":6,"height":1,"mark":{"type":"point","opacity":0}},
   {"width":195,"height":21,"data":{"values":[{"label":"8: chan8 <ips rms>"}]},"mark":{"type":"text","align":"left","x":0,"dy":3.5,"fontSize":11,"fontWeight":"bold","color":"#000000"},"encoding":{"text":{"field":"label"}}}]},
  {"spacing":0,"hconcat":[
   {"width":4,"height":167,"mark":{"type":"point","opacity":0}},
   {"width":1,"height":167,"mark":{"type":"point","opacity":0},"view":{"fill":"#808080"}},
   {"width":7,"height":1,"mark":{"type":"point","opacity":0}},
   {"spacing":0,"vconcat":[
    {"width":181,"height":5,"mark":{"type":"point","opacity":0}},
    {"width":181,"height":155,"view":{"fill":"#00ffff"},"data":{"name":"ch5"},
     "encoding":{"x":{"field":"k","type":"quantitative","scale":{"domain":[0,60],"nice":false,"zero":false},"axis":{"values":[12,24,36,48],"grid":true,"gridColor":"#0b8c8c","gridOpacity":1,"labels":false,"ticks":false,"domain":false,"title":null}}},
     "layer":[
      {"mark":{"type":"line","color":"#6b7272","strokeWidth":1},"encoding":{"y":{"field":"g","type":"quantitative","scale":{"domain":[-2,2],"nice":false},"axis":{"values":[-1,0,1],"grid":true,"gridColor":"#0b8c8c","gridOpacity":1,"labels":false,"ticks":false,"domain":false,"title":null}}}},
      {"mark":{"type":"line","color":"#e8262a","strokeWidth":1.2},"encoding":{"y":{"field":"r","type":"quantitative","axis":{"values":[-1,0,1],"grid":true,"gridColor":"#0b8c8c","gridOpacity":1,"labels":false,"ticks":false,"domain":false,"title":null}}}}]}]},
   {"width":3,"height":1,"mark":{"type":"point","opacity":0}},
   {"width":1,"height":167,"mark":{"type":"point","opacity":0},"view":{"fill":"#f0f0f0"}},
   {"width":8,"height":1,"mark":{"type":"point","opacity":0}},
   {"spacing":0,"vconcat":[
    {"width":181,"height":5,"mark":{"type":"point","opacity":0}},
    {"width":181,"height":155,"view":{"fill":"#00ffff"},"data":{"name":"ch6"},
     "encoding":{"x":{"field":"k","type":"quantitative","scale":{"domain":[0,60],"nice":false,"zero":false},"axis":{"values":[12,24,36,48],"grid":true,"gridColor":"#0b8c8c","gridOpacity":1,"labels":false,"ticks":false,"domain":false,"title":null}}},
     "layer":[
      {"mark":{"type":"line","color":"#6b7272","strokeWidth":1},"encoding":{"y":{"field":"g","type":"quantitative","scale":{"domain":[-2,2],"nice":false},"axis":{"values":[-1,0,1],"grid":true,"gridColor":"#0b8c8c","gridOpacity":1,"labels":false,"ticks":false,"domain":false,"title":null}}}},
      {"mark":{"type":"line","color":"#e8262a","strokeWidth":1.2},"encoding":{"y":{"field":"r","type":"quantitative","axis":{"values":[-1,0,1],"grid":true,"gridColor":"#0b8c8c","gridOpacity":1,"labels":false,"ticks":false,"domain":false,"title":null}}}}]}]},
   {"width":2,"height":1,"mark":{"type":"point","opacity":0}},
   {"width":1,"height":167,"mark":{"type":"point","opacity":0},"view":{"fill":"#f0f0f0"}},
   {"width":8,"height":1,"mark":{"type":"point","opacity":0}},
   {"spacing":0,"vconcat":[
    {"width":180,"height":6,"mark":{"type":"point","opacity":0}},
    {"width":180,"height":154,"view":{"fill":"#00ffff"},"data":{"name":"ch7"},
     "encoding":{"x":{"field":"k","type":"quantitative","scale":{"domain":[0,60],"nice":false,"zero":false},"axis":{"values":[12,24,36,48],"grid":true,"gridColor":"#0b8c8c","gridOpacity":1,"labels":false,"ticks":false,"domain":false,"title":null}}},
     "layer":[
      {"mark":{"type":"line","color":"#6b7272","strokeWidth":1},"encoding":{"y":{"field":"g","type":"quantitative","scale":{"domain":[-2,2],"nice":false},"axis":{"values":[-1,0,1],"grid":true,"gridColor":"#0b8c8c","gridOpacity":1,"labels":false,"ticks":false,"domain":false,"title":null}}}},
      {"mark":{"type":"line","color":"#e8262a","strokeWidth":1.2},"encoding":{"y":{"field":"r","type":"quantitative","axis":{"values":[-1,0,1],"grid":true,"gridColor":"#0b8c8c","gridOpacity":1,"labels":false,"ticks":false,"domain":false,"title":null}}}}]}]},
   {"width":2,"height":1,"mark":{"type":"point","opacity":0}},
   {"width":1,"height":167,"mark":{"type":"point","opacity":0},"view":{"fill":"#f0f0f0"}},
   {"spacing":0,"vconcat":[
    {"spacing":0,"hconcat":[
     {"width":16,"height":13,"mark":{"type":"point","opacity":0}},
     {"width":185,"height":13,"data":{"values":[{"label":"7225\u00a0\u00a09146\u00a0\u00a0\u00a0\u00a0\u00a0-66.5152"}]},"mark":{"type":"text","align":"left","x":0,"font":"Liberation Mono","fontSize":12,"color":"#3a3a3a"},"encoding":{"text":{"field":"label"}}}]},
    {"spacing":0,"hconcat":[
     {"width":12,"height":1,"mark":{"type":"point","opacity":0}},
     {"width":150,"height":128,"view":{"fill":"#00ffff"},
      "layer":[
       {"data":{"values":[{"s":7225}]},"mark":{"type":"rule","color":"#1f4fd8","strokeWidth":2},"encoding":{"x":{"field":"s","type":"quantitative","scale":{"domain":[0,11025],"nice":false,"zero":false},"axis":{"values":[0,2205,4410,6615,8820,11025],"format":"d","grid":true,"gridColor":{"condition":{"test":"datum.value==0||datum.value==11025","value":"transparent"},"value":"#0b8c8c"},"gridOpacity":1,"labels":true,"labelFontSize":9,"labelColor":"#222222","labelOverlap":false,"labelFlush":false,"labelPadding":1,"ticks":true,"tickSize":3,"tickColor":"#222222","domain":false,"title":null}}}},
       {"data":{"values":[{"v":-60}]},"mark":{"type":"rule","color":"#1f4fd8","strokeWidth":2},"encoding":{"y":{"field":"v","type":"quantitative","scale":{"domain":[-80,0],"nice":false,"zero":false},"axis":{"values":[-80,-60,-40,-20],"format":"d","grid":true,"gridColor":{"condition":{"test":"datum.value==-80","value":"transparent"},"value":"#0b8c8c"},"gridOpacity":1,"labels":true,"labelFontSize":9,"labelColor":"#222222","labelOverlap":false,"labelPadding":1,"ticks":true,"tickSize":4,"tickColor":"#222222","domain":false,"title":null}}}}]}]}]}]}]},
 {"spacing":0,"hconcat":[
  {"width":17,"height":51,"mark":{"type":"point","opacity":0}},
  {"spacing":0,"vconcat":[
   {"width":95,"height":17,"mark":{"type":"point","opacity":0}},
   {"width":95,"height":12,"data":{"values":[{"label":"Plot Config"}]},"mark":{"type":"text","align":"left","x":0,"fontSize":11,"fontWeight":"bold","color":"#000000"},"encoding":{"text":{"field":"label"}}},
   {"width":95,"height":2,"mark":{"type":"point","opacity":0}},
   {"spacing":0,"hconcat":[
    {"width":6,"height":15,"data":{"values":[{"d":"up"},{"d":"down"}]},"mark":{"type":"point","filled":true,"size":10,"opacity":1,"color":"#000000"},"encoding":{"y":{"field":"d","type":"nominal","scale":{"domain":["up","down"],"padding":0.5},"axis":null},"shape":{"field":"d","type":"nominal","scale":{"domain":["up","down"],"range":["triangle-up","triangle-down"]},"legend":null}}},
    {"width":76,"height":15,"data":{"values":[{"label":"Generic"}]},"mark":{"type":"text","align":"left","x":3,"fontSize":11,"color":"#333333"},"encoding":{"text":{"field":"label"}},"view":{"fill":"#ffffff"}}]}]},
  {"width":408,"height":1,"mark":{"type":"point","opacity":0}},
  {"spacing":0,"vconcat":[
   {"width":133,"height":14,"mark":{"type":"point","opacity":0}},
   {"width":133,"height":32,"data":{"values":[{"label":"Previous 8 Channels"}]},"mark":{"type":"text","fontSize":11,"fontWeight":"bold","color":"#8e8e8e"},"encoding":{"text":{"field":"label"}},"view":{"fill":"#c8c8c8","stroke":"#6a6a6a","strokeWidth":1,"cornerRadius":3}}]},
  {"width":6,"height":1,"mark":{"type":"point","opacity":0}},
  {"spacing":0,"vconcat":[
   {"width":121,"height":14,"mark":{"type":"point","opacity":0}},
   {"width":121,"height":32,"data":{"values":[{"label":"Next 8 Channels"}]},"mark":{"type":"text","fontSize":11,"fontWeight":"bold","color":"#000000"},"encoding":{"text":{"field":"label"}},"view":{"fill":"#c8c8c8","stroke":"#3c3c3c","strokeWidth":1,"cornerRadius":3}}]}]},
 {"spacing":0,"vconcat":[
  {"width":799,"height":1,"mark":{"type":"point","opacity":0},"view":{"fill":"#8a8a8a"}},
  {"width":799,"height":1,"mark":{"type":"point","opacity":0},"view":{"fill":"#f4f4f4"}},
  {"width":799,"height":5,"mark":{"type":"point","opacity":0}},
  {"width":799,"height":1,"mark":{"type":"point","opacity":0},"view":{"fill":"#8a8a8a"}},
  {"width":799,"height":1,"mark":{"type":"point","opacity":0},"view":{"fill":"#505050"}},
  {"width":799,"height":1,"mark":{"type":"point","opacity":0},"view":{"fill":"#f4f4f4"}},
  {"width":799,"height":3,"mark":{"type":"point","opacity":0}}]},
 {"spacing":0,"hconcat":[
  {"width":10,"height":118,"mark":{"type":"point","opacity":0}},
  {"spacing":0,"vconcat":[
   {"width":85,"height":7,"mark":{"type":"point","opacity":0}},
   {"width":62,"height":12,"data":{"values":[{"label":"Plot Mode"}]},"mark":{"type":"text","fontSize":11,"fontWeight":"bold","color":"#000000"},"encoding":{"text":{"field":"label"}},"view":{"stroke":"#000000","strokeDash":[1,1],"strokeWidth":1}},
   {"width":85,"height":7,"mark":{"type":"point","opacity":0}},
   {"spacing":0,"hconcat":[
    {"width":2,"height":15,"mark":{"type":"point","opacity":0}},
    {"width":6,"height":15,"data":{"values":[{"d":"up"},{"d":"down"}]},"mark":{"type":"point","filled":true,"size":10,"opacity":1,"color":"#000000"},"encoding":{"y":{"field":"d","type":"nominal","scale":{"domain":["up","down"],"padding":0.5},"axis":null},"shape":{"field":"d","type":"nominal","scale":{"domain":["up","down"],"range":["triangle-up","triangle-down"]},"legend":null}}},
    {"width":74,"height":15,"data":{"values":[{"label":"Xfer Function"}]},"mark":{"type":"text","align":"left","x":3,"fontSize":11,"color":"#333333"},"encoding":{"text":{"field":"label"}},"view":{"fill":"#ffffff"}}]},
   {"width":85,"height":9,"mark":{"type":"point","opacity":0}},
   {"spacing":0,"hconcat":[
    {"width":2,"height":26,"mark":{"type":"point","opacity":0}},
    {"width":83,"height":26,"data":{"values":[{"label":"Setup"}]},"mark":{"type":"text","fontSize":11,"fontWeight":"bold","color":"#000000"},"encoding":{"text":{"field":"label"}},"view":{"fill":"#c8c8c8","stroke":"#3c3c3c","strokeWidth":1,"cornerRadius":3}}]},
   {"width":85,"height":8,"mark":{"type":"point","opacity":0}},
   {"spacing":0,"hconcat":[
    {"width":2,"height":27,"mark":{"type":"point","opacity":0}},
    {"width":83,"height":27,"data":{"values":[{"label":"Stop"}]},"mark":{"type":"text","fontSize":11,"fontWeight":"bold","color":"#000000"},"encoding":{"text":{"field":"label"}},"view":{"fill":"#c8c8c8","stroke":"#3c3c3c","strokeWidth":1,"cornerRadius":3}}]}]},
  {"width":27,"height":1,"mark":{"type":"point","opacity":0}},
  {"spacing":0,"vconcat":[
   {"width":111,"height":7,"mark":{"type":"point","opacity":0}},
   {"width":111,"height":12,"data":{"values":[{"label":"Disk Selector"}]},"mark":{"type":"text","align":"left","x":8,"fontSize":11,"fontWeight":"bold","color":"#000000"},"encoding":{"text":{"field":"label"}}},
   {"width":111,"height":7,"mark":{"type":"point","opacity":0}},
   {"spacing":0,"hconcat":[
    {"width":10,"height":15,"mark":{"type":"point","opacity":0}},
    {"width":6,"height":15,"data":{"values":[{"d":"up"},{"d":"down"}]},"mark":{"type":"point","filled":true,"size":10,"opacity":1,"color":"#000000"},"encoding":{"y":{"field":"d","type":"nominal","scale":{"domain":["up","down"],"padding":0.5},"axis":null},"shape":{"field":"d","type":"nominal","scale":{"domain":["up","down"],"range":["triangle-up","triangle-down"]},"legend":null}}},
    {"width":74,"height":15,"data":{"values":[{"label":"Disk 1"}]},"mark":{"type":"text","align":"left","x":3,"fontSize":11,"color":"#333333"},"encoding":{"text":{"field":"label"}},"view":{"fill":"#ffffff"}}]},
   {"width":111,"height":8,"mark":{"type":"point","opacity":0}},
   {"spacing":0,"vconcat":[
    {"width":111,"height":1,"mark":{"type":"point","opacity":0},"view":{"fill":"#8a8a8a"}},
    {"spacing":0,"hconcat":[
     {"width":1,"height":62,"mark":{"type":"point","opacity":0},"view":{"fill":"#8a8a8a"}},
     {"spacing":0,"vconcat":[
      {"width":109,"height":11,"mark":{"type":"point","opacity":0}},
      {"spacing":0,"hconcat":[
       {"width":10,"height":16,"mark":{"type":"point","opacity":0}},
       {"width":16,"height":16,"mark":{"type":"point","opacity":0},"view":{"fill":"#d0d0d0","stroke":"#7a7a7a"}},
       {"width":5,"height":1,"mark":{"type":"point","opacity":0}},
       {"width":78,"height":16,"data":{"values":[{"label":"Recording"}]},"mark":{"type":"text","align":"left","x":2,"fontSize":11,"fontWeight":"bold","color":"#000000"},"encoding":{"text":{"field":"label"}}}]},
      {"width":109,"height":6,"mark":{"type":"point","opacity":0}},
      {"spacing":0,"hconcat":[
       {"width":10,"height":16,"mark":{"type":"point","opacity":0}},
       {"width":16,"height":16,"mark":{"type":"point","opacity":0},"view":{"fill":"#d0d0d0","stroke":"#7a7a7a"}},
       {"width":5,"height":1,"mark":{"type":"point","opacity":0}},
       {"width":78,"height":16,"data":{"values":[{"label":"SysFault"}]},"mark":{"type":"text","align":"left","x":2,"fontSize":11,"fontWeight":"bold","color":"#000000"},"encoding":{"text":{"field":"label"}}}]},
      {"width":109,"height":12,"mark":{"type":"point","opacity":0}}]},
     {"width":1,"height":62,"mark":{"type":"point","opacity":0},"view":{"fill":"#f4f4f4"}}]},
    {"width":111,"height":1,"mark":{"type":"point","opacity":0},"view":{"fill":"#f4f4f4"}}]}]},
  {"width":24,"height":1,"mark":{"type":"point","opacity":0}},
  {"spacing":0,"vconcat":[
   {"width":418,"height":4,"mark":{"type":"point","opacity":0}},
   {"width":418,"height":108,"data":{"name":"leds"},
    "encoding":{"x":{"field":"col","type":"ordinal","axis":null,"scale":{"padding":0.5}}},
    "layer":[
     {"mark":{"type":"circle","size":130,"opacity":1,"stroke":"#9a9aee","strokeWidth":1},"encoding":{"y":{"field":"lr","type":"nominal","axis":null,"scale":{"domain":["n1","l1","n2","l2","n3","l3"],"padding":0.5}},"color":{"field":"state","type":"nominal","scale":{"domain":["idle","selected","fault"],"range":["#0000ff","#33dd33","#ff1010"]},"legend":null}}},
     {"mark":{"type":"text","fontSize":9,"fontWeight":"bold","color":"#1a1a1a"},"encoding":{"y":{"field":"nr","type":"nominal","axis":null},"text":{"field":"ch","type":"ordinal"}}}]}]},
  {"width":29,"height":1,"mark":{"type":"point","opacity":0}},
  {"spacing":0,"vconcat":[
   {"width":87,"height":7,"mark":{"type":"point","opacity":0}},
   {"width":87,"height":12,"data":{"values":[{"label":"Scope Selector"}]},"mark":{"type":"text","align":"left","x":1,"fontSize":11,"fontWeight":"bold","color":"#000000"},"encoding":{"text":{"field":"label"}}},
   {"width":87,"height":7,"mark":{"type":"point","opacity":0}},
   {"spacing":0,"hconcat":[
    {"width":2,"height":15,"mark":{"type":"point","opacity":0}},
    {"width":6,"height":15,"data":{"values":[{"d":"up"},{"d":"down"}]},"mark":{"type":"point","filled":true,"size":10,"opacity":1,"color":"#000000"},"encoding":{"y":{"field":"d","type":"nominal","scale":{"domain":["up","down"],"padding":0.5},"axis":null},"shape":{"field":"d","type":"nominal","scale":{"domain":["up","down"],"range":["triangle-up","triangle-down"]},"legend":null}}},
    {"width":71,"height":15,"data":{"values":[{"label":"Plot #1"}]},"mark":{"type":"text","align":"left","x":3,"fontSize":11,"color":"#333333"},"encoding":{"text":{"field":"label"}},"view":{"fill":"#ffffff"}}]},
   {"width":87,"height":8,"mark":{"type":"point","opacity":0}},
   {"width":85,"height":27,"data":{"values":[{"label":"New Scope"}]},"mark":{"type":"text","fontSize":11,"fontWeight":"bold","color":"#000000"},"encoding":{"text":{"field":"label"}},"view":{"fill":"#c8c8c8","stroke":"#3c3c3c","strokeWidth":1,"cornerRadius":3}},
   {"width":87,"height":8,"mark":{"type":"point","opacity":0}},
   {"width":85,"height":28,"data":{"values":[{"label":"Print Screen"}]},"mark":{"type":"text","fontSize":11,"fontWeight":"bold","color":"#000000"},"encoding":{"text":{"field":"label"}},"view":{"fill":"#c8c8c8","stroke":"#3c3c3c","strokeWidth":1,"cornerRadius":3}}]}]}
]}
]
}
